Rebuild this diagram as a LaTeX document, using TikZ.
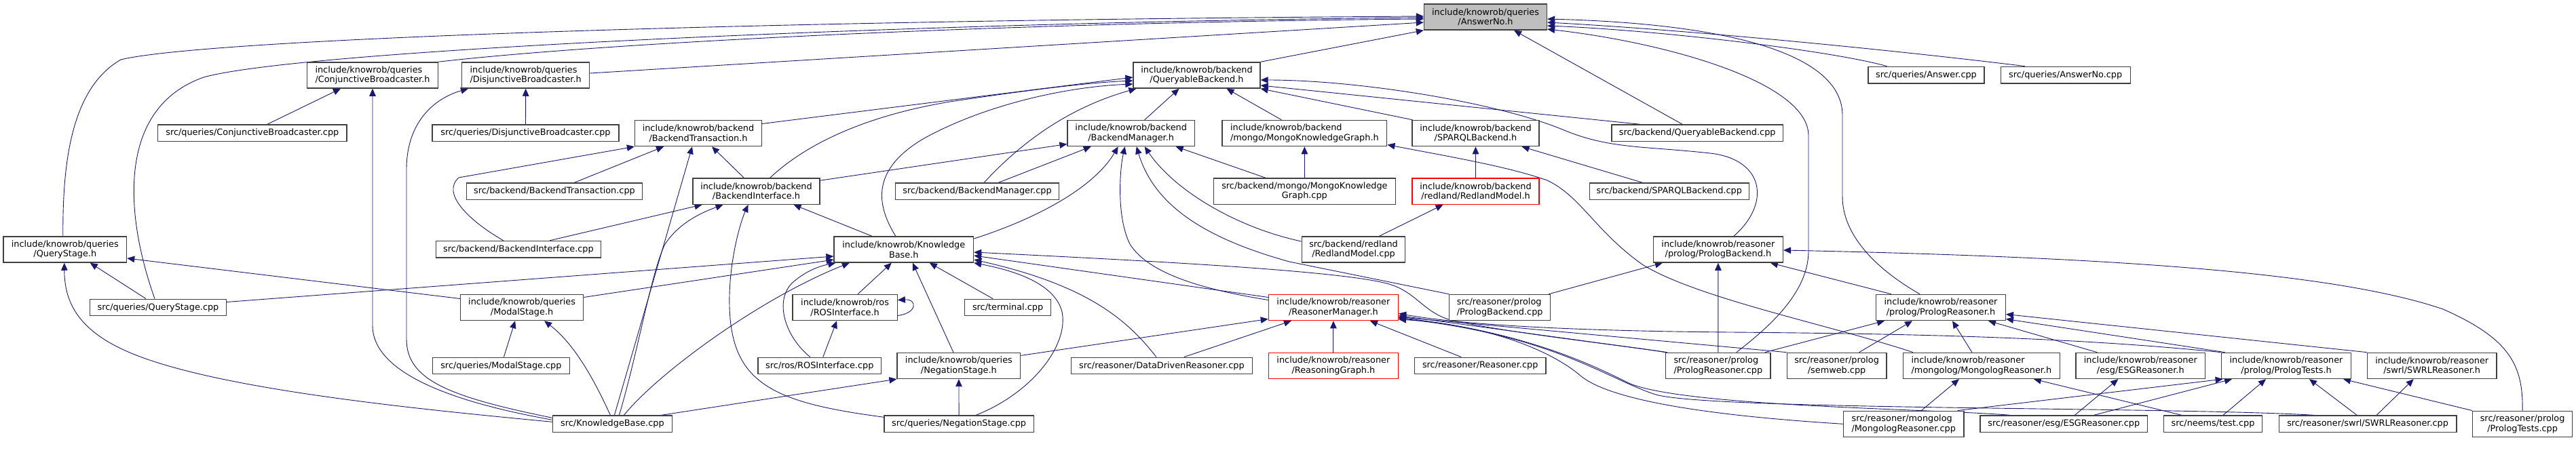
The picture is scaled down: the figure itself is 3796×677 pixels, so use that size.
\documentclass[tikz,border=0pt]{standalone}
\usepackage{fontspec}
\setmainfont{DejaVu Sans}
\usetikzlibrary{arrows.meta,backgrounds}
\definecolor{edgec}{RGB}{25,25,112}
\definecolor{boxc}{RGB}{64,64,64}
\definecolor{redc}{RGB}{255,0,0}
\definecolor{fillg}{RGB}{191,191,191}
\newcommand\nodefnt{\fontsize{12.85}{14.5}\selectfont}
\tikzset{
  nb/.style={draw=boxc, fill=white, line width=1.3pt, inner sep=0pt, font=\nodefnt, align=center, minimum height=38.2pt},
  nb1/.style={nb, minimum height=24.6pt},
  nbl/.style={nb, align=left},
  nred/.style={nb, draw=redc},
  ngray/.style={nb, fill=fillg},
  e/.style={draw=edgec, line width=0.9pt, -{Triangle[length=11pt,width=9.5pt]}},
}
\begin{document}
\begin{tikzpicture}[x=1pt,y=-1pt]
\useasboundingbox (0,0) rectangle (3796,677);
% row 1
\node[ngray, minimum width=181pt] (ansno) at (2189,25) {include/knowrob/queries\\/AnswerNo.h};
% row 2
\node[nbl, minimum width=192.5pt] (conjh) at (549,111) {include/knowrob/queries\\/ConjunctiveBroadcaster.h};
\node[nbl, minimum width=188pt] (disjh) at (774.7,111) {include/knowrob/queries\\/DisjunctiveBroadcaster.h};
\node[nb, minimum width=187pt] (qbh) at (1763.5,111) {include/knowrob/backend\\/QueryableBackend.h};
\node[nb1, minimum width=171pt] (answercpp) at (2838.5,110.6) {src/queries/Answer.cpp};
\node[nb1, minimum width=191pt] (answernocpp) at (3043.7,110.6) {src/queries/AnswerNo.cpp};
% row 3
\node[nb1, minimum width=278.4pt] (conjcpp) at (371.8,196.3) {src/queries/ConjunctiveBroadcaster.cpp};
\node[nb1, minimum width=275pt] (disjcpp) at (774.5,196.3) {src/queries/DisjunctiveBroadcaster.cpp};
\node[nb, minimum width=187pt] (btransh) at (1029,196.5) {include/knowrob/backend\\/BackendTransaction.h};
\node[nb, minimum width=187.4pt] (bmgrh) at (1666.7,196.5) {include/knowrob/backend\\/BackendManager.h};
\node[nbl, minimum width=242.8pt] (mongokgh) at (1922.4,196.5) {include/knowrob/backend\\/mongo/MongoKnowledgeGraph.h};
\node[nb, minimum width=187pt] (sparqlh) at (2174.5,196.5) {include/knowrob/backend\\/SPARQLBackend.h};
\node[nb1, minimum width=252.4pt] (qbcpp) at (2501.2,196.3) {src/backend/QueryableBackend.cpp};
% row 4
\node[nb1, minimum width=258.7pt] (btranscpp) at (817,282.4) {src/backend/BackendTransaction.cpp};
\node[nb, minimum width=187pt] (bifh) at (1114.5,282.2) {include/knowrob/backend\\/BackendInterface.h};
\node[nb1, minimum width=241.3pt] (bmgrcpp) at (1440,282.4) {src/backend/BackendManager.cpp};
\node[nb, minimum width=267.6pt] (mongokgcpp) at (1922.4,282.2) {src/backend/mongo/MongoKnowledge\\Graph.cpp};
\node[nred, minimum width=187pt] (redlandh) at (2174.5,282.2) {include/knowrob/backend\\/redland/RedlandModel.h};
\node[nb1, minimum width=235pt] (sparqlcpp) at (2459.8,282.4) {src/backend/SPARQLBackend.cpp};
% row 5
\node[nb, minimum width=181.6pt] (qstageh) at (95.8,368) {include/knowrob/queries\\/QueryStage.h};
\node[nb1, minimum width=243pt] (bifcpp) at (763.9,367.8) {src/backend/BackendInterface.cpp};
\node[nb, minimum width=205.5pt] (kbh) at (1331.8,368) {include/knowrob/Knowledge\\Base.h};
\node[nb, minimum width=152.6pt] (redlandcpp) at (1994.5,368) {src/backend/redland\\/RedlandModel.cpp};
\node[nb, minimum width=191pt] (plbackh) at (2531.9,368) {include/knowrob/reasoner\\/prolog/PrologBackend.h};
% row 6
\node[nb1, minimum width=200.6pt] (qstagecpp) at (233,453.5) {src/queries/QueryStage.cpp};
\node[nb, minimum width=181.2pt] (modalh) at (769.1,453.5) {include/knowrob/queries\\/ModalStage.h};
\node[nb, minimum width=154.2pt] (rosh) at (1245.1,453.5) {include/knowrob/ros\\/ROSInterface.h};
\node[nb1, minimum width=126.8pt] (terminal) at (1485.1,453.5) {src/terminal.cpp};
\node[nred, minimum width=191pt] (rmh) at (1964.9,453.5) {include/knowrob/reasoner\\/ReasonerManager.h};
\node[nbl, minimum width=148.9pt] (plbackcpp) at (2210.2,453.5) {src/reasoner/prolog\\/PrologBackend.cpp};
\node[nb, minimum width=190.7pt] (plreash) at (2860,453.5) {include/knowrob/reasoner\\/prolog/PrologReasoner.h};
% row 7
\node[nb1, minimum width=201.9pt] (modalcpp) at (738.4,539.5) {src/queries/ModalStage.cpp};
\node[nb1, minimum width=181.6pt] (roscpp) at (1207.8,539.5) {src/ros/ROSInterface.cpp};
\node[nb, minimum width=181.8pt] (negh) at (1412.9,539.4) {include/knowrob/queries\\/NegationStage.h};
\node[nb1, minimum width=267pt] (ddrcpp) at (1711.9,539.5) {src/reasoner/DataDrivenReasoner.cpp};
\node[nred, minimum width=191pt] (rgh) at (1964.9,539.4) {include/knowrob/reasoner\\/ReasoningGraph.h};
\node[nb1, minimum width=193.6pt] (reascpp) at (2181.2,539.5) {src/reasoner/Reasoner.cpp};
\node[nbl, minimum width=154.4pt] (plreascpp) at (2531.8,539.4) {src/reasoner/prolog\\/PrologReasoner.cpp};
\node[nb, minimum width=146.8pt] (semweb) at (2706.6,539.4) {src/reasoner/prolog\\/semweb.cpp};
\node[nbl, minimum width=230.9pt] (mongologh) at (2919.9,539.4) {include/knowrob/reasoner\\/mongolog/MongologReasoner.h};
\node[nb, minimum width=190.6pt] (esgh) at (3154.3,539.4) {include/knowrob/reasoner\\/esg/ESGReasoner.h};
\node[nb, minimum width=191.5pt] (pltestsh) at (3369,539.4) {include/knowrob/reasoner\\/prolog/PrologTests.h};
\node[nb, minimum width=190.6pt] (swrlh) at (3583.7,539.4) {include/knowrob/reasoner\\/swrl/SWRLReasoner.h};
% row 8
\node[nb1, minimum width=175.8pt] (kbcpp) at (902.4,625.3) {src/KnowledgeBase.cpp};
\node[nb1, minimum width=220.2pt] (negcpp) at (1413.1,625.3) {src/queries/NegationStage.cpp};
\node[nbl, minimum width=177.5pt] (mongologcpp) at (2805.2,625.3) {src/reasoner/mongolog\\/MongologReasoner.cpp};
\node[nb1, minimum width=246.6pt] (esgcpp) at (3041.3,625.3) {src/reasoner/esg/ESGReasoner.cpp};
\node[nb1, minimum width=145.5pt] (testcpp) at (3261,625.3) {src/neems/test.cpp};
\node[nb1, minimum width=261.6pt] (swrlcpp) at (3489.1,625.3) {src/reasoner/swrl/SWRLReasoner.cpp};
\node[nb, minimum width=147.2pt] (pltestscpp) at (3717.1,625.3) {src/reasoner/prolog\\/PrologTests.cpp};

\begin{scope}[on background layer]
\fill[white] (0,0) rectangle (3796,677);
% into AnswerNo.h
\draw[e] ([xshift=-3pt]qstageh.north) .. controls (92,240) and (105,130) .. (178,88) .. controls (300,58) and (1100,30) .. ([yshift=1pt]ansno.west);
\draw[e] ([xshift=-5pt]qstagecpp.north) .. controls (185,320) and (170,160) .. (300,114) .. controls (450,72) and (1400,32) .. ([yshift=-1pt]ansno.west);
\draw[e] (conjh.north east) .. controls (900,62) and (1500,33) .. ([yshift=-3pt]ansno.west);
\draw[e] ([yshift=3pt]disjh.east) -- ([yshift=-8pt]ansno.west);
\draw[e] (qbh.north east) -- (ansno.south west);
\draw[e] ([xshift=-22pt]qbcpp.north) -- ([xshift=42pt]ansno.south);
\draw[e] ([xshift=-58pt]answercpp.north) .. controls (2700,75) and (2450,45) .. ([yshift=-13pt]ansno.east);
\draw[e] ([xshift=-60pt]answernocpp.north) .. controls (2800,75) and (2500,45) .. ([yshift=-8pt]ansno.east);
\draw[e] ([xshift=-31pt]plreash.north) .. controls (2770,400) and (2715,350) .. (2715,290) -- (2715,170) .. controls (2715,80) and (2550,35) .. ([yshift=-3pt]ansno.east);
\draw[e] ([xshift=27pt]plreascpp.north) .. controls (2610,480) and (2665,430) .. (2665,370) -- (2665,200) .. controls (2665,120) and (2450,62) .. ([yshift=-18pt]ansno.east);
% broadcasters / query stage
\draw[e] ([xshift=22pt]conjcpp.north) -- ([xshift=-47pt]conjh.south);
\draw[e] (disjcpp.north) -- (disjh.south);
\draw[e] ([yshift=6pt]kbcpp.west) .. controls (650,590) and (549,545) .. (549,480) -- (conjh.south);
\draw[e] ([yshift=9pt]kbcpp.west) .. controls (660,585) and (599,560) .. (599,500) -- (599,250) .. controls (599,180) and (640,145) .. ([xshift=10pt]disjh.south west);
\draw[e] ([yshift=3pt]kbcpp.west) .. controls (600,602) and (300,572) .. (180,515) .. controls (110,482) and (95,440) .. ([xshift=-1pt]qstageh.south);
\draw[e] ([xshift=-18pt]qstagecpp.north) -- ([xshift=37pt]qstageh.south);
\draw[e] ([yshift=13pt]modalh.west) -- ([yshift=-13pt]qstageh.east);
\draw[e] ([yshift=8pt]qstagecpp.east) -- ([yshift=-10pt]kbh.west);
% backend transaction / interface
\draw[e] ([xshift=29pt]btranscpp.north) -- ([xshift=-51pt]btransh.south);
\draw[e] ([xshift=-22pt]bifcpp.north) .. controls (690,325) and (650,285) .. (676,262) -- (btransh.south west);
\draw[e] ([xshift=-18pt]bifh.north) -- ([xshift=20pt]btransh.south);
\draw[e] ([xshift=3pt]kbcpp.north) -- ([xshift=-9pt]btransh.south);
\draw[e] ([xshift=46pt]bifcpp.north) -- ([xshift=-80pt]bifh.south);
\draw[e] ([xshift=10pt]kbcpp.north) .. controls (940,520) and (960,400) .. (980,360) .. controls (1000,330) and (1030,315) .. ([xshift=-49pt]bifh.south);
\draw[e] ([yshift=10pt]negcpp.west) .. controls (1150,595) and (1085,570) .. (1076,470) .. controls (1070,400) and (1090,330) .. ([xshift=-12pt]bifh.south);
\draw[e] ([xshift=-47pt]kbh.north) -- ([xshift=55pt]bifh.south);
\draw[e] ([yshift=16pt]bifh.east) -- ([yshift=-16pt]bmgrh.west);
% into QueryableBackend.h
\draw[e] ([yshift=14pt]btransh.east) -- ([yshift=-3pt]qbh.west);
\draw[e] ([xshift=20pt]bifh.north) .. controls (1190,210) and (1280,170) .. (1400,150) .. controls (1500,135) and (1600,122) .. ([yshift=-8pt]qbh.west);
\draw[e] ([xshift=-12pt]kbh.north) .. controls (1290,300) and (1285,250) .. (1360,205) .. controls (1450,155) and (1570,128) .. ([yshift=-13pt]qbh.west);
\draw[e] ([xshift=10pt]bmgrcpp.north) .. controls (1500,215) and (1570,160) .. ([xshift=5pt]qbh.south west);
\draw[e] ([xshift=20pt]bmgrh.north) -- ([xshift=-26pt]qbh.south);
\draw[e] ([xshift=-34pt]mongokgh.north) -- ([xshift=44pt]qbh.south);
\draw[e] ([xshift=-93pt]sparqlh.north) -- (qbh.south east);
\draw[e] ([xshift=-84pt]qbcpp.north) -- ([yshift=-15pt]qbh.east);
\draw[e] ([xshift=23pt]plbackh.north) .. controls (2610,300) and (2600,235) .. (2520,226) .. controls (2420,215) and (2370,220) .. (2300,190) .. controls (2200,150) and (2000,118) .. ([yshift=-7pt]qbh.east);
% into BackendManager.h
\draw[e] ([xshift=31pt]bmgrcpp.north) -- ([xshift=-59pt]bmgrh.south);
\draw[e] ([yshift=16pt]kbh.east) .. controls (1520,325) and (1610,280) .. ([xshift=-19pt]bmgrh.south);
\draw[e] ([yshift=11pt]rmh.west) .. controls (1760,425) and (1690,400) .. (1665,360) .. controls (1645,320) and (1650,250) .. ([xshift=-9pt]bmgrh.south);
\draw[e] ([yshift=12pt]redlandcpp.west) .. controls (1820,335) and (1730,280) .. ([xshift=20pt]bmgrh.south);
\draw[e] (plbackcpp.north west) -- (1900,386) .. controls (1770,350) and (1700,300) .. ([xshift=8pt]bmgrh.south);
\draw[e] ([xshift=-57pt]mongokgcpp.north) -- ([xshift=66pt]bmgrh.south);
% mongo / sparql / redland
\draw[e] (mongokgcpp.north) -- (mongokgh.south);
\draw[e] (redlandh.north) -- (sparqlh.south);
\draw[e] ([xshift=38pt]redlandcpp.north) -- ([xshift=-48pt]redlandh.south);
\draw[e] ([xshift=-39pt]sparqlcpp.north) -- ([xshift=68pt]sparqlh.south);
\draw[e] ([xshift=-101pt]mongologh.north) .. controls (2700,480) and (2500,440) .. (2420,390) .. controls (2350,340) and (2330,290) .. (2280,266) .. controls (2220,245) and (2130,230) .. ([yshift=-17pt]mongokgh.east);
% into KnowledgeBase.h
\draw[e] ([yshift=-12pt]rosh.east) .. controls (1352,462) and (1352,441) .. ([yshift=11pt]rosh.east);
\draw[e] ([xshift=19pt]rosh.north) -- ([xshift=-18pt]kbh.south);
\draw[e] ([xshift=5pt]roscpp.north) -- ([xshift=-12pt]rosh.south);
\draw[e] ([xshift=-14pt]roscpp.north) .. controls (1155,495) and (1140,440) .. (1170,415) .. controls (1190,398) and (1210,392) .. ([xshift=3pt]kbh.south west);
\draw[e] ([xshift=17pt]kbcpp.north) .. controls (970,550) and (1120,440) .. ([xshift=-80pt]kbh.south);
\draw[e] ([yshift=15pt]modalh.east) -- ([yshift=-15pt]kbh.west);
\draw[e] ([xshift=4pt]modalcpp.north) -- ([xshift=-10pt]modalh.south);
\draw[e] ([xshift=-3pt]kbcpp.north) .. controls (880,570) and (850,510) .. ([xshift=33pt]modalh.south);
\draw[e] ([xshift=-8pt]negh.north) -- ([xshift=13pt]kbh.south);
\draw[e] ([xshift=-22pt]terminal.north) -- ([xshift=38pt]kbh.south);
\draw[e] ([xshift=25pt]negcpp.north) .. controls (1520,580) and (1575,510) .. (1565,460) .. controls (1555,420) and (1500,400) .. (kbh.south east);
\draw[e] ([xshift=-8pt]ddrcpp.north) .. controls (1660,470) and (1600,420) .. ([yshift=-15pt]kbh.east);
\draw[e] ([yshift=15pt]rmh.west) -- ([yshift=-9pt]kbh.east);
\draw[e] (plreascpp.north west) .. controls (2400,510) and (2250,495) .. (2146,474) .. controls (2100,465) and (2090,433) .. (2050,420) .. controls (1990,400) and (1700,385) .. ([yshift=-4pt]kbh.east);
% into ReasonerManager.h
\draw[e] ([yshift=15pt]negh.east) -- ([yshift=-17pt]rmh.west);
\draw[e] ([xshift=33pt]ddrcpp.north) -- ([xshift=-62pt]rmh.south);
\draw[e] (rgh.north) -- (rmh.south);
\draw[e] ([xshift=-28pt]reascpp.north) -- ([xshift=54pt]rmh.south);
\draw[e] (negcpp.north) -- (negh.south);
\draw[e] ([xshift=72pt]kbcpp.north) -- (negh.south west);
\draw[e] (pltestsh.north west) .. controls (3050,497) and (2800,492) .. (2550,490) .. controls (2300,488) and (2150,478) .. ([yshift=-9pt]rmh.east);
\draw[e] ([xshift=3pt]plreascpp.north west) -- ([yshift=-12pt]rmh.east);
\draw[e] (semweb.north west) -- ([yshift=-14pt]rmh.east);
\draw[e] ([xshift=45pt]esgcpp.north west) .. controls (2850,603) and (2480,600) .. (2400,565) .. controls (2350,540) and (2250,490) .. ([yshift=-15pt]rmh.east);
\draw[e] ([xshift=53pt]swrlcpp.north west) .. controls (3200,600) and (2520,605) .. (2440,582) .. controls (2370,560) and (2290,495) .. ([yshift=-16pt]rmh.east);
\draw[e] (mongologcpp.west) .. controls (2550,615) and (2380,595) .. (2330,555) .. controls (2290,520) and (2200,480) .. ([yshift=-17.5pt]rmh.east);
% prolog backend / reasoner
\draw[e] ([xshift=72pt]plbackcpp.north) -- ([xshift=-82pt]plbackh.south);
\draw[e] (plreascpp.north) -- (plbackh.south);
\draw[e] ([xshift=-73pt]plreash.north) -- ([xshift=77pt]plbackh.south);
\draw[e] (pltestscpp.north) .. controls (3718,540) and (3700,500) .. (3600,456) .. controls (3450,405) and (3150,380) .. ([yshift=-1pt]plbackh.east);
\draw[e] ([xshift=69pt]plreascpp.north) -- ([xshift=-83pt]plreash.south);
\draw[e] ([xshift=33pt]semweb.north) -- ([xshift=-42pt]plreash.south);
\draw[e] ([xshift=-14pt]mongologh.north) -- ([xshift=17pt]plreash.south);
\draw[e] ([xshift=-64pt]esgh.north) -- ([xshift=70pt]plreash.south);
\draw[e] (swrlh.north west) -- ([yshift=-10pt]plreash.east);
\draw[e] ([xshift=6pt]pltestsh.north west) -- ([yshift=-17pt]plreash.east);
% bottom row
\draw[e] ([xshift=26pt]mongologcpp.north) -- ([xshift=-33pt]mongologh.south);
\draw[e] ([xshift=-10pt]mongologcpp.north east) -- ([xshift=3pt]pltestsh.south west);
\draw[e] ([xshift=16pt]esgcpp.north) -- ([xshift=-33pt]esgh.south);
\draw[e] ([xshift=44pt]esgcpp.north) -- ([xshift=-80pt]pltestsh.south);
\draw[e] ([xshift=-46pt]testcpp.north) -- ([xshift=77pt]mongologh.south);
\draw[e] ([xshift=15pt]testcpp.north) -- ([xshift=-30pt]pltestsh.south);
\draw[e] ([xshift=-16pt]swrlcpp.north) -- ([xshift=34pt]pltestsh.south);
\draw[e] ([xshift=13pt]swrlcpp.north) -- ([xshift=-27pt]swrlh.south);
\draw[e] (pltestscpp.north west) -- ([xshift=84pt]pltestsh.south);
\end{scope}
\end{tikzpicture}
\end{document}
